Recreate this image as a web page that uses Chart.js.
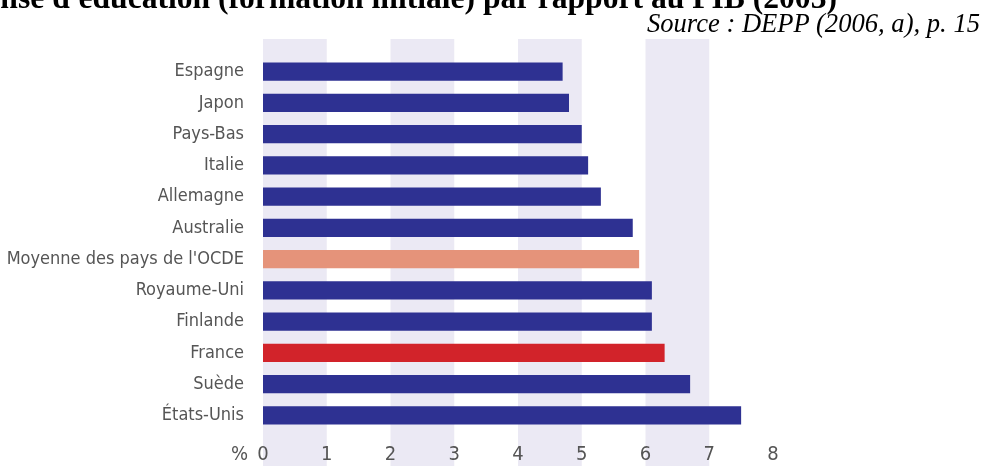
<!DOCTYPE html>
<html lang="fr">
<head>
    <meta charset="UTF-8">
    <title>Dépense d'éducation par rapport au PIB (2003)</title>
    <script src="https://cdn.jsdelivr.net/npm/chart.js@4/dist/chart.umd.min.js"></script>
    <style>
        html, body {
            margin: 0;
            padding: 0;
            background: #fff;
            overflow: hidden;
        }
        .wrap {
            position: relative;
            width: 984px;
            height: 466px;
        }
        .titre {
            position: absolute;
            right: 147px;
            top: -18px;
            white-space: nowrap;
            font: bold 31.6px/31px "Liberation Serif", "Times New Roman", serif;
            color: #000;
        }
        .source {
            position: absolute;
            right: 4px;
            top: 10px;
            white-space: nowrap;
            font: italic 26.6px/27px "Liberation Serif", "Times New Roman", serif;
            color: #000;
        }
        #chart {
            position: absolute;
            left: 0;
            top: 0;
        }
    </style>
</head>
<body>
<div class="wrap">
    <canvas id="chart" width="984" height="466"></canvas>
    <div class="titre">Dépense d'éducation (formation initiale) par rapport au PIB (2003)</div>
    <div class="source">Source : DEPP (2006, a), p. 15</div>
</div>

<script>
    // données
    const pays = ['Espagne', 'Japon', 'Pays-Bas', 'Italie', 'Allemagne', 'Australie',
        "Moyenne des pays de l'OCDE", 'Royaume-Uni', 'Finlande', 'France', 'Suède', 'États-Unis'];
    const depensePIB = [4.7, 4.8, 5.0, 5.1, 5.3, 5.8, 5.9, 6.1, 6.1, 6.3, 6.7, 7.5];
    const couleurs = ['#2e3192', '#2e3192', '#2e3192', '#2e3192', '#2e3192', '#2e3192',
        '#e5937a', '#2e3192', '#2e3192', '#d2232a', '#2e3192', '#2e3192'];
    const graduations = [0, 1, 2, 3, 4, 5, 6, 7, 8];

    const policeAxe = "'DejaVu Sans Condensed', Roboto, sans-serif";

    // bandes verticales alternées (0-1, 2-3, 4-5, 6-7)
    const bandes = {
        id: 'bandes',
        beforeDraw(chart) {
            const { ctx, chartArea, scales } = chart;
            ctx.save();
            ctx.fillStyle = '#ebe9f4';
            for (let i = 0; i < graduations.length - 1; i += 2) {
                const x0 = scales.x.getPixelForValue(graduations[i]);
                const x1 = scales.x.getPixelForValue(graduations[i + 1]);
                ctx.fillRect(x0, chartArea.top - 17, x1 - x0, chart.height - chartArea.top + 17);
            }
            ctx.restore();
        },
        afterDraw(chart) {
            const { ctx, scales } = chart;
            ctx.save();
            ctx.font = '20px ' + policeAxe;
            ctx.fillStyle = '#555';
            ctx.textAlign = 'right';
            ctx.textBaseline = 'middle';
            ctx.fillText('%', scales.x.getPixelForValue(0) - 15, 455);
            ctx.restore();
        }
    };

    new Chart(document.getElementById('chart'), {
        type: 'bar',
        data: {
            labels: pays,
            datasets: [{
                data: depensePIB,
                backgroundColor: couleurs,
                borderWidth: 0,
                barPercentage: 0.58,
                categoryPercentage: 1
            }]
        },
        options: {
            indexAxis: 'y',
            responsive: false,
            animation: false,
            devicePixelRatio: 1,
            layout: { padding: { top: 56, right: 211, left: 0, bottom: 0 } },
            plugins: {
                legend: { display: false },
                tooltip: { enabled: false }
            },
            scales: {
                x: {
                    min: 0,
                    max: 8,
                    grid: { display: false, drawTicks: false },
                    border: { display: false },
                    afterFit(scale) { scale.height = 35; },
                    ticks: {
                        stepSize: 1,
                        padding: 12,
                        color: '#555',
                        font: { family: policeAxe, size: 20 }
                    }
                },
                y: {
                    grid: { display: false, drawTicks: false },
                    border: { display: false },
                    afterFit(scale) { scale.width = 263; },
                    ticks: {
                        autoSkip: false,
                        padding: 19,
                        color: '#555',
                        font: { family: policeAxe, size: 18 }
                    }
                }
            }
        },
        plugins: [bandes]
    });
</script>
</body>
</html>
